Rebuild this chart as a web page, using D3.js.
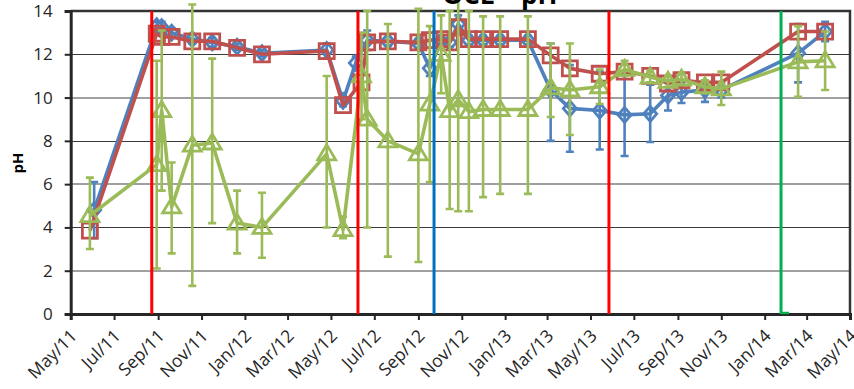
<!DOCTYPE html>
<html><head><meta charset="utf-8">
<script src="https://cdn.jsdelivr.net/npm/d3@7/dist/d3.min.js"></script>
<style>body{margin:0;background:#fff}svg{display:block}</style>
</head><body>
<svg id="c" width="854" height="389"></svg>
<script>
// ---------- data ----------
const dates = [
  "2011-05-28","2011-06-03","2011-08-30","2011-09-06","2011-09-20","2011-10-19","2011-11-16",
  "2011-12-21","2012-01-25","2012-04-25","2012-05-18","2012-06-05","2012-06-13","2012-06-21",
  "2012-07-20","2012-09-01","2012-09-17","2012-10-03","2012-10-15","2012-10-27","2012-11-11",
  "2012-12-01","2012-12-25","2013-02-02","2013-03-06","2013-04-02","2013-05-14","2013-06-18",
  "2013-07-24","2013-08-18","2013-09-06","2013-10-09","2013-11-01","2014-02-17","2014-03-27"
];
const blueValues = [null,4.8,13.3,13.25,13.0,12.7,12.55,12.35,12.05,12.2,9.85,11.6,null,12.65,
  12.6,12.5,11.35,12.6,12.55,13.4,12.65,12.65,12.65,12.65,10.35,9.5,9.4,9.2,9.25,10.1,10.25,10.35,10.35,12.05,13.05];
const blueLow  = [null,3.5,13.1,13.0,12.8,12.5,12.35,12.2,11.9,11.8,9.6,11.3,null,12.2,
  12.4,12.3,11.0,12.4,12.35,13.0,12.45,12.45,12.45,12.45,8.0,7.5,7.6,7.3,7.95,9.4,9.75,9.8,10.0,10.7,12.6];
const blueHigh = [null,6.1,13.5,13.5,13.2,12.9,12.75,12.5,12.2,12.5,10.1,11.9,null,13.1,
  12.8,12.7,11.7,12.8,12.75,13.8,12.85,12.85,12.85,12.85,12.5,11.5,11.2,11.1,10.6,10.8,10.7,10.8,10.7,13.4,13.5];
const redValues = [3.85,null,12.95,12.8,12.8,12.6,12.6,12.3,12.0,12.15,9.65,null,10.7,12.55,
  12.6,12.55,12.65,12.7,12.55,13.25,12.7,12.7,12.7,12.7,11.95,11.35,11.1,11.2,11.0,10.65,10.8,10.7,10.7,13.05,13.05];
const greenValues = [4.55,null,6.9,9.4,4.95,7.8,7.9,4.2,4.0,7.4,3.9,null,11.0,9.0,
  8.0,7.4,9.7,12.0,9.4,9.9,9.35,9.45,9.45,9.45,10.45,10.35,10.5,11.3,10.95,10.75,10.85,10.5,10.4,11.65,11.7];
const greenLow  = [3.0,null,2.1,5.7,2.8,1.3,4.2,2.8,2.6,4.0,3.5,null,9.0,4.0,
  2.65,2.4,6.1,10.2,4.85,4.75,4.75,5.4,5.55,5.55,9.1,8.27,9.7,11.0,10.7,10.5,10.6,10.2,9.66,10.04,10.35];
const greenHigh = [6.3,null,11.7,13.1,7.0,14.3,11.8,5.7,5.6,11.0,4.5,null,13.0,14.0,
  13.4,14.1,13.3,13.8,14.0,15.0,14.0,13.75,13.75,13.75,12.5,12.5,11.3,11.7,11.2,11.0,11.1,10.8,11.2,13.3,13.05];
const eventDates = ["2011-08-23","2012-06-08","2012-09-23","2013-05-27","2014-01-24"];
const eventKinds = ["red","red","blue","red","green"];
const yTicks = [0,2,4,6,8,10,12,14];
const titleText = "OCL \u2013 pH";
const yLabel = "pH";

// ---------- drawing ----------
const parse = d3.timeParse("%Y-%m-%d");
const svg = d3.select("#c");
const L = 70.7, R = 850, T = 11, B = 314;
const x = d3.scaleTime().domain([parse("2011-05-01"), parse("2014-05-01")]).range([L, R]);
const y = d3.scaleLinear().domain([0, 14]).range([B, T]);
const FONT = "'Open Sans', sans-serif";

// gridlines
svg.append("g").selectAll("line").data(yTicks.filter(v => v > 0)).join("line")
  .attr("x1", L).attr("x2", R)
  .attr("y1", d => Math.round(y(d)) + (d % 4 === 0 ? 0.5 : 0))
  .attr("y2", d => Math.round(y(d)) + (d % 4 === 0 ? 0.5 : 0))
  .attr("stroke", d => d % 4 === 0 ? "#3a3a3a" : "#a0a0a0")
  .attr("stroke-width", d => d % 4 === 0 ? 1.2 : 2);

// plot border (top/right)
svg.append("path").attr("d", `M${L},${T}H${R}V${B}`).attr("fill", "none")
  .attr("stroke", "#333").attr("stroke-width", 2.5);

// axes
const xAxis = d3.axisBottom(x).ticks(d3.timeMonth.every(2)).tickFormat(d3.timeFormat("%b/%y")).tickSizeOuter(0).tickSize(6);
const gx = svg.append("g").attr("transform", `translate(0,${B})`).call(xAxis);
gx.select(".domain").attr("stroke", "#262626").attr("stroke-width", 3);
gx.selectAll(".tick line").attr("stroke", "#262626").attr("stroke-width", 2);
gx.selectAll(".tick text").attr("font-family", FONT).attr("font-size", 17.5).attr("fill", "#262626")
  .attr("text-anchor", "end").attr("dy", null).attr("y", null)
  .attr("transform", "translate(7,23) rotate(-45)");

const yAxis = d3.axisLeft(y).tickValues(yTicks).tickSizeOuter(0).tickSize(6).tickPadding(12);
const gy = svg.append("g").attr("transform", `translate(${L},0)`).call(yAxis);
gy.select(".domain").attr("stroke", "#262626").attr("stroke-width", 3);
gy.selectAll(".tick line").attr("stroke", "#262626").attr("stroke-width", 2);
gy.selectAll(".tick text").attr("font-family", FONT).attr("font-size", 17).attr("fill", "#262626");

// y label
svg.append("text").attr("transform", "translate(23,163) rotate(-90)").attr("text-anchor", "middle")
  .attr("font-family", FONT).attr("font-weight", "bold").attr("font-size", 15).attr("fill", "#000").text(yLabel);

function pts(vals, lo, hi) {
  return dates.map((d, i) => ({ d: parse(d), v: vals[i], lo: lo ? lo[i] : null, hi: hi ? hi[i] : null }))
    .filter(p => p.v != null);
}
const line = d3.line().x(p => x(p.d)).y(p => y(p.v));

function drawSeries(data, color, marker) {
  const g = svg.append("g");
  const eb = data.filter(p => p.lo != null);
  g.selectAll(".eb").data(eb).join("path")
    .attr("d", p => `M${x(p.d)},${y(p.lo)}V${y(p.hi)}M${x(p.d)-4},${y(p.lo)}h8M${x(p.d)-4},${y(p.hi)}h8`)
    .attr("stroke", color).attr("stroke-width", 2.6).attr("fill", "none");
  g.append("path").attr("d", line(data)).attr("fill", "none").attr("stroke", color)
    .attr("stroke-width", 3.6).attr("stroke-linejoin", "round");
  g.selectAll(".m").data(data).join("path")
    .attr("transform", p => `translate(${x(p.d)},${y(p.v)})`)
    .attr("d", marker).attr("fill", "none").attr("stroke", color).attr("stroke-width", 2.8);
}
drawSeries(pts(blueValues, blueLow, blueHigh), "#4F81BD", "M0,-7.5L6.5,0L0,7.5L-6.5,0Z");
drawSeries(pts(redValues), "#C0504D", "M-7.5,-7.5H7.5V7.5H-7.5Z");
drawSeries(pts(greenValues, greenLow, greenHigh), "#9BBB59", "M0,-9L9,6H-9Z");

// event lines
const evColor = { red: "#FF0000", blue: "#0070C0", green: "#00B050" };
svg.append("g").selectAll("line").data(eventDates.map((d, i) => ({ d: parse(d), k: eventKinds[i] }))).join("line")
  .attr("x1", e => x(e.d)).attr("x2", e => x(e.d)).attr("y1", y(0)).attr("y2", y(14))
  .attr("stroke", e => evColor[e.k]).attr("stroke-width", 3);
const lastEv = parse(eventDates[4]);
svg.append("path").attr("d", `M${x(lastEv)},${y(0)-1}h8`).attr("stroke", "#00B050").attr("stroke-width", 2.5);

// title (clipped at top, as in the reference), drawn over the plot
svg.append("text").attr("x", 500).attr("y", 4).attr("text-anchor", "middle")
  .attr("font-family", FONT).attr("font-weight", "bold").attr("font-size", 26).attr("fill", "#000").text(titleText);
</script>
</body></html>
